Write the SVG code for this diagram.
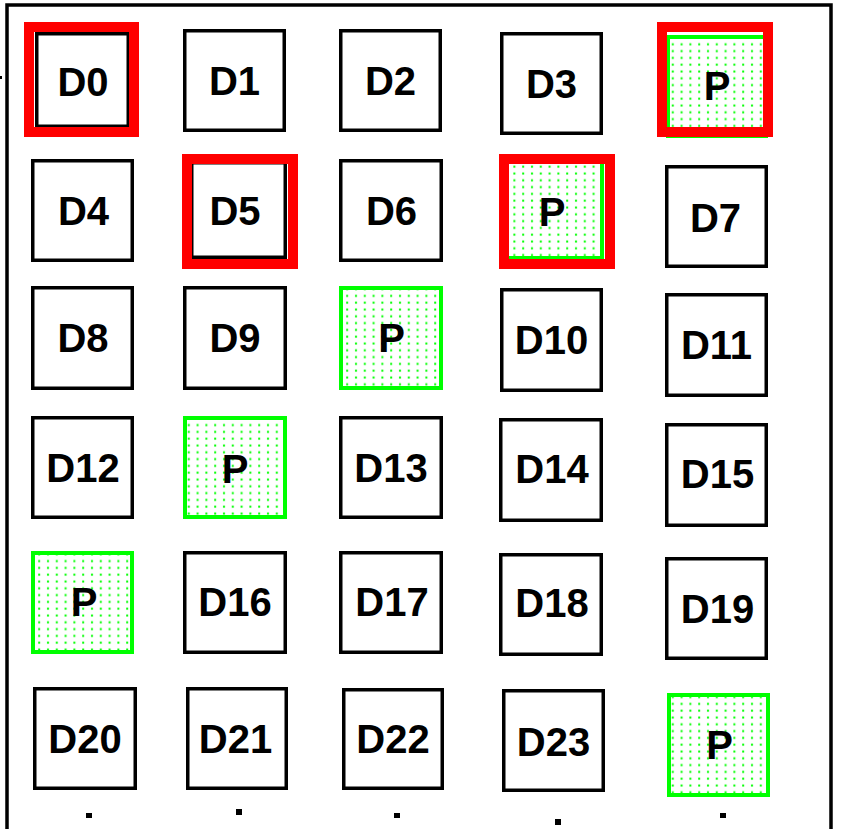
<svg xmlns="http://www.w3.org/2000/svg" width="841" height="829" viewBox="0 0 841 829">
<style>
.box{fill:#fff;stroke:#000;stroke-width:3.5}
.par{fill:url(#dots);stroke:#00ff00;stroke-width:4}
.hl{fill:none;stroke:#ff0000;stroke-width:10}
.lbl{font-family:"Liberation Sans",Arial,sans-serif;font-weight:bold;font-size:40px;fill:#000;text-anchor:middle}
.frame{fill:none;stroke:#000;stroke-width:3.5}
.mark{fill:#000}
</style>
<defs>
<pattern id="dots" x="0" y="0" width="8.8" height="6.8" patternUnits="userSpaceOnUse">
<rect width="8.8" height="6.8" fill="#fff"/>
<rect x="3" y="2.5" width="2" height="2" fill="#00ff00"/>
</pattern>
</defs>
<rect width="841" height="829" fill="#fff"/>
<g id="frame">
<path class="frame" d="M7,829 V5 H831 V829"/>
<rect class="mark" x="0" y="76" width="2" height="3"/>
<rect class="mark" x="86" y="813" width="6" height="5"/>
<rect class="mark" x="236" y="809" width="6" height="6"/>
<rect class="mark" x="394" y="813" width="6" height="5"/>
<rect class="mark" x="555" y="819" width="6" height="6"/>
<rect class="mark" x="720" y="813" width="6" height="5"/>
</g>
<g id="connectors"></g>
<!-- Row 1 -->
<g id="D0"><rect class="box" x="36.75" y="33.75" width="91.5" height="92.5"/><rect class="hl" x="29" y="27" width="105" height="105"/><text class="lbl" x="83" y="96">D0</text></g>
<g id="D1"><rect class="box" x="184.75" y="30.75" width="99.5" height="99.5"/><text class="lbl" x="234.5" y="95">D1</text></g>
<g id="D2"><rect class="box" x="340.75" y="30.75" width="99.5" height="99.5"/><text class="lbl" x="390.5" y="95">D2</text></g>
<g id="D3"><rect class="box" x="501.75" y="33.75" width="99.5" height="99.5"/><text class="lbl" x="551.5" y="98">D3</text></g>
<g id="P1"><rect class="par" x="668" y="37" width="98" height="99"/><rect class="hl" x="662" y="27" width="106" height="105"/><text class="lbl" x="717" y="100">P</text></g>
<!-- Row 2 -->
<g id="D4"><rect class="box" x="32.75" y="160.75" width="99.5" height="99.5"/><text class="lbl" x="83.5" y="225">D4</text></g>
<g id="D5"><rect class="box" x="191.75" y="162.75" width="93.5" height="94.5"/><rect class="hl" x="187" y="159" width="106" height="105"/><text class="lbl" x="235" y="225">D5</text></g>
<g id="D6"><rect class="box" x="340.75" y="160.75" width="100.5" height="99.5"/><text class="lbl" x="391.5" y="225">D6</text></g>
<g id="P2"><rect class="par" x="507" y="162" width="95" height="96"/><rect class="hl" x="504" y="159" width="106" height="105"/><text class="lbl" x="552" y="226">P</text></g>
<g id="D7"><rect class="box" x="666.75" y="166.75" width="99.5" height="99.5"/><text class="lbl" x="715.5" y="232">D7</text></g>
<!-- Row 3 -->
<g id="D8"><rect class="box" x="32.75" y="287.75" width="99.5" height="100.5"/><text class="lbl" x="83" y="352">D8</text></g>
<g id="D9"><rect class="box" x="184.75" y="287.75" width="100.5" height="100.5"/><text class="lbl" x="235" y="352">D9</text></g>
<g id="P3"><rect class="par" x="341" y="288" width="100" height="100"/><text class="lbl" x="391.5" y="352">P</text></g>
<g id="D10"><rect class="box" x="501.75" y="289.75" width="99.5" height="100.5"/><text class="lbl" x="551.5" y="354">D10</text></g>
<g id="D11"><rect class="box" x="666.75" y="294.75" width="99.5" height="100.5"/><text class="lbl" x="716.5" y="359">D11</text></g>
<!-- Row 4 -->
<g id="D12"><rect class="box" x="32.75" y="417.75" width="99.5" height="99.5"/><text class="lbl" x="83" y="482">D12</text></g>
<g id="P4"><rect class="par" x="185" y="418" width="100" height="99"/><text class="lbl" x="235" y="483">P</text></g>
<g id="D13"><rect class="box" x="340.75" y="417.75" width="100.5" height="99.5"/><text class="lbl" x="391" y="482">D13</text></g>
<g id="D14"><rect class="box" x="500.75" y="419.75" width="100.5" height="100.5"/><text class="lbl" x="552" y="483">D14</text></g>
<g id="D15"><rect class="box" x="666.75" y="424.75" width="99.5" height="100.5"/><text class="lbl" x="717.5" y="488">D15</text></g>
<!-- Row 5 -->
<g id="P5"><rect class="par" x="33" y="553" width="99" height="99"/><text class="lbl" x="84" y="616">P</text></g>
<g id="D16"><rect class="box" x="184.75" y="552.75" width="100.5" height="99.5"/><text class="lbl" x="235" y="616">D16</text></g>
<g id="D17"><rect class="box" x="340.75" y="552.75" width="100.5" height="99.5"/><text class="lbl" x="392" y="616">D17</text></g>
<g id="D18"><rect class="box" x="500.75" y="554.75" width="100.5" height="99.5"/><text class="lbl" x="552" y="617">D18</text></g>
<g id="D19"><rect class="box" x="666.75" y="558.75" width="99.5" height="99.5"/><text class="lbl" x="717.5" y="623">D19</text></g>
<!-- Row 6 -->
<g id="D20"><rect class="box" x="34.75" y="688.75" width="100.5" height="99.5"/><text class="lbl" x="85" y="753">D20</text></g>
<g id="D21"><rect class="box" x="187.75" y="688.75" width="98.5" height="99.5"/><text class="lbl" x="235.5" y="753">D21</text></g>
<g id="D22"><rect class="box" x="343.75" y="689.75" width="98.5" height="98.5"/><text class="lbl" x="393" y="753">D22</text></g>
<g id="D23"><rect class="box" x="503.75" y="690.75" width="99.5" height="99.5"/><text class="lbl" x="553.5" y="756">D23</text></g>
<g id="P6"><rect class="par" x="669" y="695" width="99" height="100"/><text class="lbl" x="719.5" y="759">P</text></g>
</svg>
